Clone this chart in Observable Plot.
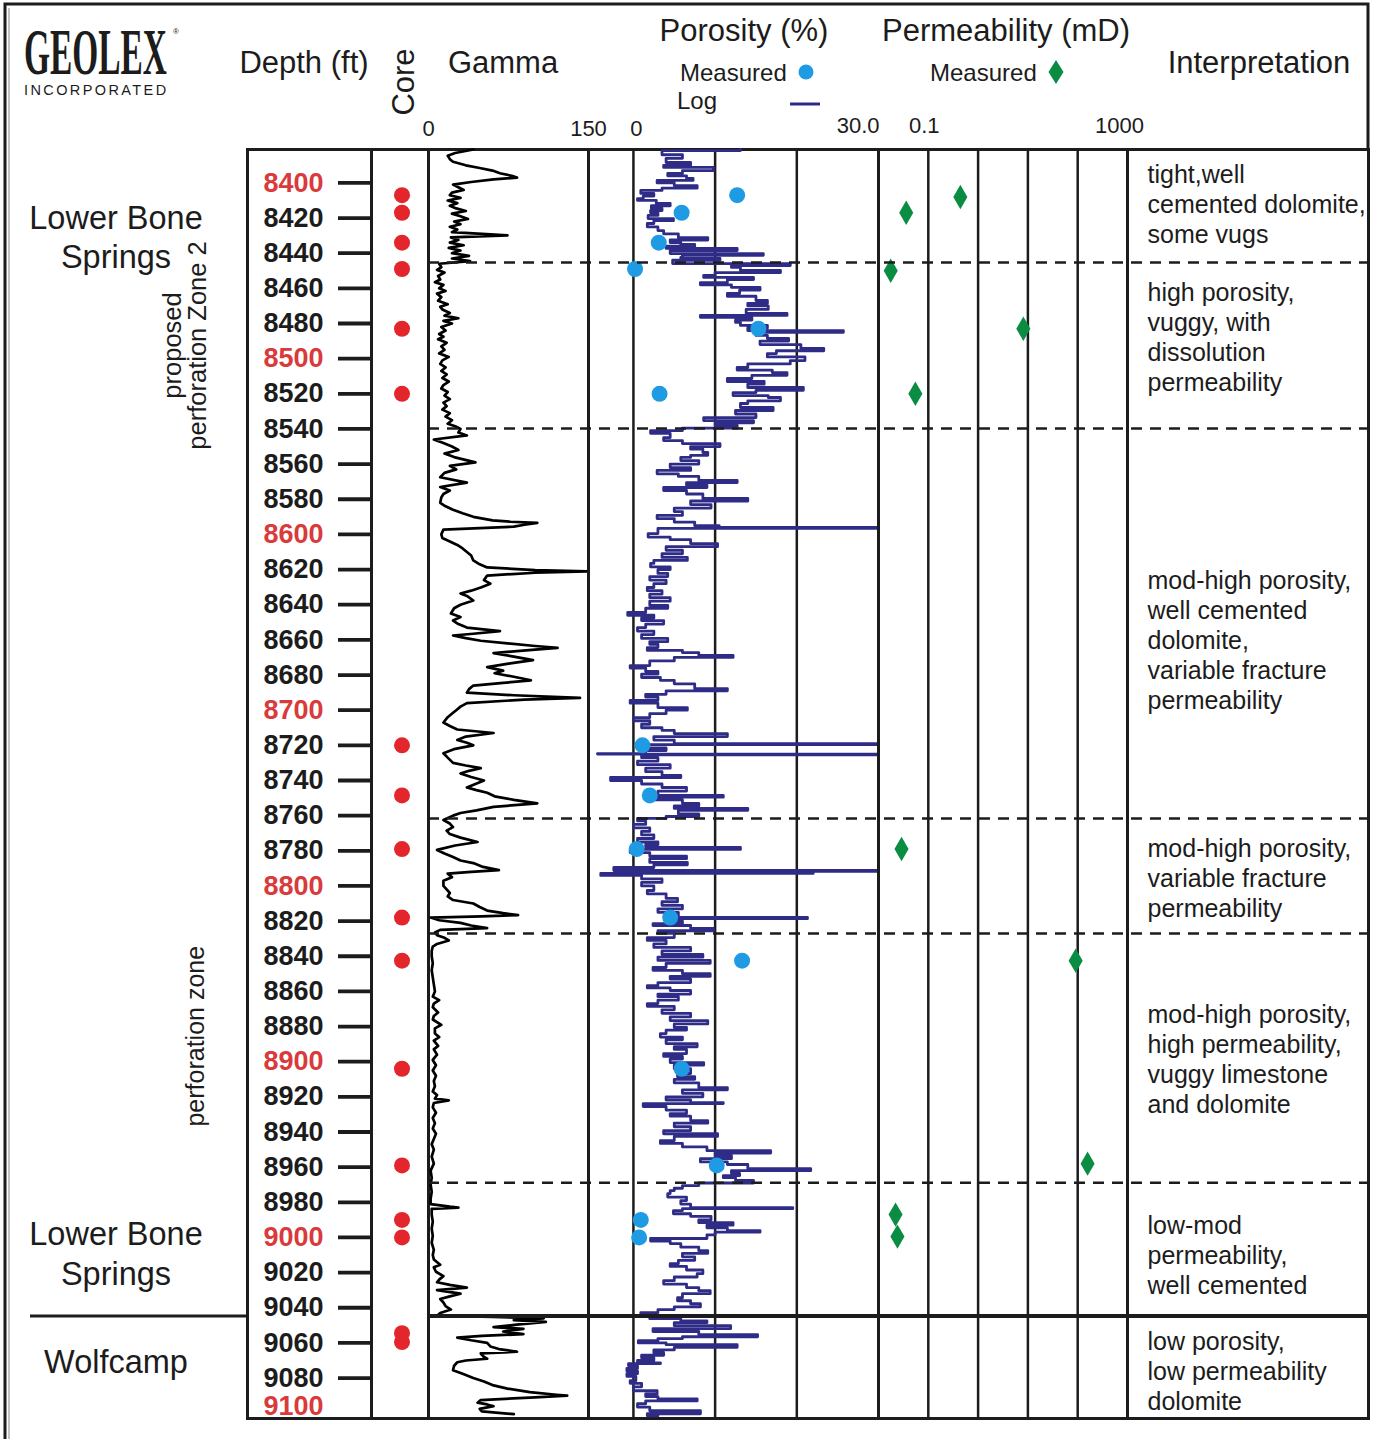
<!DOCTYPE html>
<html>
<head>
<meta charset="utf-8">
<script src="https://cdn.jsdelivr.net/npm/d3@7"></script>
<script src="https://cdn.jsdelivr.net/npm/@observablehq/plot@0.6"></script>
<style>
  body { margin: 0; background: #fff; }
  #chart { position: relative; width: 1373px; height: 1439px; overflow: hidden; background: #fff;
           font-family: "Liberation Sans", Arial, Helvetica, sans-serif; }
</style>
</head>
<body>
<div id="chart"></div>
<script>
// ---------------- DATA ----------------
const depthTicks = d3.range(8400, 9101, 20);                 // ft
const coreDepths = [8407, 8417, 8434, 8449, 8483, 8520, 8720, 8748.5, 8779, 8818, 8842.5, 8904, 8959, 8990, 9000, 9054.5, 9059.5];

// measured porosity [depth ft, porosity %]
const porosityMeasured = [[8407,12.7],[8417,5.9],[8434,3.1],[8449,0.2],[8483,15.3],[8520,3.2],[8720,1.1],[8748.5,2.0],
  [8779,0.4],[8818,4.5],[8842.5,13.3],[8904,5.9],[8959,10.2],[8990,0.9],[9000,0.7]];

// measured permeability [depth ft, mD]
const permMeasured = [[8408,0.44],[8417,0.036],[8450,0.0176],[8483,8.1],[8520,0.055],[8779,0.029],[8842.5,91],[8958,158],[8987,0.022],[8999.5,0.024]];

// gamma ray log [depth ft, API]
const gammaLog = [[8381,42],[8383,25],[8384.5,18],[8386.5,20],[8388,23],[8390,35],[8391.5,48],[8393,60],[8394.5,67],[8396,78],[8397,83],[8398,61],[8399.5,40],[8401,23],[8402.5,28],[8404,33],[8405.5,22],[8407,20],[8408.5,30],[8410,18],[8411.5,27],[8413,20],[8414.5,26],[8416,35],[8417.5,22],[8419,30],[8420.5,37],[8422,24],[8423.5,30],[8425,20],[8426.5,27],[8428,22],[8429.9,74],[8431,21],[8432.5,28],[8434,20],[8435.5,33],[8437,19],[8438.5,30],[8440,22],[8441.5,38],[8443,22],[8444.5,39],
  [8446,10],[8448,12],[8449.5,8],[8451,15],[8453,9],[8455,11],[8456.5,6],[8458,14],[8460,10],[8461.5,16],[8463,8],[8465,12],[8467,9],[8469,18],[8470.5,11],[8472,13],[8474,20],[8475.5,15],[8477,28],[8478.5,14],[8480,22],[8482,12],[8484,16],[8486,10],[8487.5,14],[8489,9],[8491,17],[8493,12],[8495,15],[8497,10],[8499,19],[8501,13],[8503,11],[8505,16],[8507,12],[8509,17],[8511,13],[8513,19],[8515,14],[8517,12],[8519,18],[8521,15],[8523,20],[8525,14],[8527,17],[8529,13],[8531,20],[8533,16],[8535,22],[8537,18],[8538.5,25],[8540,30],
  [8542,28],[8543.7,36],[8546,5],[8548,14],[8550,22],[8552,28],[8554,15],[8556,24],[8559,44],[8561,20],[8563,26],[8565,15],[8567.5,11],[8570.5,36],[8573,11],[8575,20],[8577,14],[8579,12],[8582,11],[8584,16],[8586,23],[8588,32],[8590,42],[8592,60],[8592.8,77],[8593.4,102],[8594.5,90],[8595.6,80],[8597.3,14],[8600,12],[8602,13],[8604,20],[8606,27],[8608,32],[8610,36],[8612,40],[8614.8,42],[8617,48],[8618.8,55],[8620.3,100],[8621,149],[8621.8,100],[8623.4,55],[8626,52],[8628,58],[8630.2,49],[8632,40],[8633.6,30],[8635,36],[8637.6,42],[8640,30],[8642,24],[8645,21],[8647,30],[8649,23],[8651,28],[8653,36],[8655,67],[8656.5,42],[8657.5,23],[8659,35],[8660.5,49],[8662,74],[8663.5,100],[8664.5,121],[8665.5,100],[8667.5,61],[8669.5,80],[8671.5,98],[8673.5,75],[8675.5,55],[8677.5,70],[8679,62],[8681,80],[8683,96],[8684.5,70],[8686,42],[8688,38],[8690,36],[8691.5,80],[8693,142],[8694,90],[8696,36],[8698,30],[8700,26],[8701.5,23],[8704,18],[8707,14],[8709,20],[8711,27],[8713,61],[8715,35],[8717,27],[8718.5,36],[8720,42],[8722,25],[8724.5,14],[8727,18],[8730,23],[8731.5,35],[8733,49],[8734.5,38],[8736,30],[8738,40],[8740,52],[8742,44],[8744,36],[8745.5,45],[8747,55],[8749,62],[8751,80],[8753,102],[8755,61],[8757,45],[8758.5,30],
  [8760,23],[8762.5,14],[8764.5,20],[8766.5,23],[8768.5,17],[8770.5,20],[8772.5,30],[8775,46],[8777,25],[8779.5,8],[8781.5,15],[8783.5,23],[8785.5,30],[8787,42],[8789,50],[8791,66],[8792,40],[8793,18],[8795,22],[8797,14],[8800,14],[8802,17],[8804,20],[8806,18],[8808,23],[8810,42],[8812,48],[8814,55],[8815.5,70],[8816.6,84],[8817.3,50],[8818,2],[8819.5,10],[8821,30],[8822.5,40],[8824,55],[8825,11],[8826.5,6],[8828,8],[8829.5,15],[8831,19],[8833,8],[8834.5,4],[8837,3],[8840,3],[8844,4],[8848,3],[8852,4],[8856,5],[8860,6],[8863,4],[8865,10],[8867,5],[8869,4],[8872,9],[8874,5],[8876,4],[8879,12],[8881,6],[8884,6],[8886,10],[8888,5],[8891,9],[8893,5],[8896,8],[8899,4],[8902,7],[8905,4],[8908,7],[8911,5],[8914,6],[8917,4],[8919,8],[8921,6],[8922,19],[8923.5,5],[8926,4],[8929,7],[8932,4],[8935,6],[8938,4],[8941,7],[8944,5],[8947,3],[8950,5],[8954,3],[8958,5],[8962,2],[8966,3],[8970,2],[8974,3],[8978,2],[8981,2],[8982.5,20],[8983,28],[8983.7,3],[8987,3],[8991,4],[8995,3],[8999,4],[9003,3],[9007,5],[9010,4],[9012.5,5],[9015.5,11],[9017,5],[9019.5,7],[9022,14],[9024,10],[9025.5,8],[9027,20],[9028.5,36],[9030,8],[9032,30],[9033.5,20],[9035,11],[9037,14],[9039,16],[9041,21],[9043,11],[9044.5,8],
  [9045.2,60],[9046,108],[9047,80],[9048,110],[9049.5,85],[9051,61],[9052,89],[9053.5,70],[9055,89],[9056,50],[9057,27],[9058.5,40],[9060,55],[9062,58],[9063.5,66],[9065,83],[9066,49],[9068,52],[9069,55],[9070,35],[9071,27],[9073,24],[9075.5,23],[9077.5,32],[9080,42],[9082,52],[9084,60],[9086,74],[9088,95],[9089.5,120],[9090,130],[9091,100],[9092.5,49],[9094,46],[9095,55],[9096,61],[9097.5,48],[9099,50],[9100.5,80]];

// porosity log [depth ft, porosity %]
const porosityLog = [[8381,13.1],[8381.6,3.5],[8384,6.0],[8386,4.0],[8388.4,7.0],[8390,3.7],[8391.2,9.8],[8393,6.0],[8394.6,4.2],[8396,6.5],[8397.5,7.3],[8398.6,2.9],[8400,5.0],[8401.5,7.8],[8403,3.5],[8404.3,0.9],[8406,2.5],[8407.5,1.2],[8408.9,0.5],[8410,2.8],[8411.7,4.5],[8413,2.2],[8414.5,3.5],[8415.7,2.1],[8417,3.0],[8418.5,1.8],[8420.3,4.9],[8421.5,2.5],[8423.1,1.7],[8425,3.0],[8427.1,3.7],[8429,5.5],[8431.1,9.1],[8432.5,4.5],[8433.9,5.8],[8435,7.5],[8436,4.0],[8437.3,12.7],[8438.5,4.5],[8440.2,15.9],[8441.2,6.0],[8442.4,5.8],[8443,10.6],[8444,4.8],
  [8445.9,19.2],[8447,12.0],[8448.1,13.1],[8449.8,18],[8451,10.0],[8452.7,8.6],[8453.8,14.7],[8455,11.5],[8456.7,8.2],[8458,12.0],[8459.5,15.5],[8461,13.0],[8462.9,11.5],[8464.5,15.0],[8466.9,16.4],[8468.6,14],[8470,16.5],[8472,13.8],[8474.3,18.8],[8475.4,8.2],[8476.5,14.5],[8478,12.5],[8479.4,13.1],[8481.1,16.4],[8482.5,14.0],[8484,25.7],[8485,15.0],[8486.8,16.4],[8488.5,19.0],[8490,15.5],[8492,20.5],[8494.2,23.3],[8495.5,17.5],[8497.1,16.4],[8499,21.0],[8501.1,19.2],[8503,14.0],[8505,12.7],[8506.5,17.0],[8507.9,18.8],[8509.5,14.5],[8511.3,11.5],[8513,16.0],[8514.5,14.0],[8516.4,20.8],[8518,15.0],[8519.3,12.2],[8521,16.5],[8522.1,18],[8524,14.0],[8525.5,13.1],[8527.8,17.1],[8529.5,12.5],[8531.5,15.0],[8533.5,8.6],[8535.2,14.7],[8536.5,10.0],[8538,12.7],[8539.5,6.0],
  [8540.9,2.1],[8542.5,4.5],[8544.9,3.7],[8546.6,6.0],[8548.3,10.6],[8550,7.0],[8551.5,8.5],[8553.4,9.1],[8555,7.0],[8556.2,5.8],[8558,8.0],[8560,4.5],[8562,7.0],[8563.6,2.9],[8565.5,5.5],[8567,8.0],[8569.3,12.7],[8570.5,6.5],[8572,9.0],[8573.3,3.7],[8575,6.5],[8577,8.5],[8579.5,14],[8581,7.0],[8583,9.5],[8585,5.0],[8587,6.0],[8589.2,2.9],[8591,5.0],[8593,7.5],[8595,10.5],[8596,29.9],[8596.6,3.0],[8599.5,1.8],[8601.5,4.5],[8603,7.0],[8605.2,10.3],[8607,4.0],[8609,6.0],[8611,3.5],[8613.1,6.6],[8614.8,2.5],[8616.5,2.1],[8618.5,4.5],[8620,3.0],[8622.2,4.2],[8624,2.0],[8626,4.0],[8628,2.5],[8630.2,1.7],[8632,3.5],[8634,2.0],[8636,4.5],[8638,2.0],[8640.4,4.2],[8642,1.5],[8644.4,-0.7],[8646,2.5],[8647.5,1.0],[8649,3.7],[8651,1.5],[8653,0.5],[8655,2.5],[8657,1.0],[8659.2,4.2],[8661,2.0],[8662.5,3.0],[8664.4,1.7],[8666,6.0],[8667.2,8.0],[8668.9,12.2],[8670,5.0],[8672,2.0],[8674.6,-0.4],[8676,1.5],[8678,3.0],[8679.5,1.0],[8681.4,3.3],[8683,5.0],[8685,7.5],[8687.7,11.5],[8689,4.0],[8691,1.5],[8692.5,3.0],[8694.5,-0.4],[8696,3.0],[8698.5,6.6],[8700,4.0],[8702,2.0],[8704.2,0],[8706,2.0],[8708,1.0],[8710,3.5],[8711.5,5.0],[8713.3,11.5],[8715,2.5],[8717,5.0],[8719,29.9],[8719.6,1.0],[8721.5,4.0],[8723,1.5],[8724.7,-4.4],[8725,29.9],[8725.4,1.0],[8727,3.0],[8729,0.5],[8731,4.5],[8733,1.5],[8735,3.5],[8737.1,5.8],[8738.3,-2.8],[8740,1.0],[8742,3.5],[8744,6.5],[8746,3.0],[8748.5,11.0],[8749.5,2.1],[8751,6.0],[8753,8.0],[8754.5,5.0],[8755.9,14],[8757,5.5],[8759,8.0],[8760.5,4.0],
  [8761.6,0.5],[8763,1.5],[8765,0.0],[8767,2.0],[8769,1.0],[8771,2.5],[8773,0.5],[8775,3.0],[8776.5,1.5],[8778.1,13.1],[8779.2,1.0],[8779.8,-0.4],[8781,2.0],[8783,6.5],[8784.5,2.0],[8786.6,6.6],[8788,2.5],[8789.5,-2.4],[8791.2,29.9],[8791.7,22.0],[8792.9,-4],[8794,1.0],[8796,3.5],[8798,1.0],[8800,2.5],[8802.6,1.7],[8804.5,4.0],[8807.1,5.4],[8809,3.5],[8811,6.0],[8813,3.0],[8815,5.5],[8817.9,21.3],[8818.6,4.0],[8820,6.0],[8821.4,2.4],[8822.5,7.0],[8824.2,9.8],[8825.5,3.0],
  [8827,5.0],[8829.4,1.7],[8831,4.0],[8833,2.5],[8835,7.0],[8837,3.5],[8839,8.5],[8840.5,3.0],[8842.4,9.4],[8844,4.0],[8846.4,2.4],[8848,6.0],[8849.9,9.4],[8851.5,4.5],[8853,7.0],[8855,3.0],[8856.7,1.7],[8858,4.5],[8859.5,7.0],[8861.5,3.0],[8863,5.5],[8865,3.0],[8866.9,1.7],[8868.5,5.0],[8870.5,3.5],[8872.5,7.0],[8874.5,4.5],[8876.6,9.1],[8878.5,5.0],[8880.5,6.5],[8882,4.0],[8884,3.3],[8886,6.0],[8887.5,4.0],[8889.7,7.8],[8891.5,5.0],[8893,6.5],[8895.4,3.7],[8897,6.0],[8898.5,4.5],[8900.5,8.6],[8902,5.0],[8904,7.0],[8906.7,5.4],[8908.5,7.5],[8910,5.0],[8912,8.0],[8914.7,11.5],[8916,6.0],[8918,8.5],[8920,4.0],[8921.8,7.0],[8923.3,11.0],[8923.8,1.2],[8925.5,4.0],[8927.5,6.5],[8929.5,4.5],[8931,7.0],[8933.5,9.1],[8935,5.0],[8937,7.0],[8939.2,3.7],[8941,10.3],[8942.5,5.0],[8944.9,3.3],[8946.5,6.0],[8948.5,9.0],[8950.6,16.8],[8952,10.0],[8953.5,12.0],[8955.2,8.2],[8957,11.5],[8958.5,14.0],[8960.9,21.7],[8962,12.0],[8963.5,13.0],[8964.8,11],[8966,12.5],[8967.6,14.7],
  [8969,8.0],[8970.5,6.0],[8972,5.0],[8973.3,4.5],[8975,4.2],[8977,6.5],[8979,5.8],[8981,7.0],[8983,19.5],[8983.6,6.0],[8984.7,4.9],[8986.5,7.0],[8988,9.5],[8990,8.0],[8991.6,12.2],[8993,9.0],[8994.5,11.5],[8996.1,15.5],[8997,10.0],[8998.5,9.0],[9000.6,2.1],[9002,4.5],[9003.5,5.8],[9005.5,8.0],[9007.5,9.1],[9009,6.0],[9011,7.5],[9013,5.5],[9014.9,4.5],[9016.5,6.5],[9018.5,8.5],[9020.6,7.8],[9022.5,5.0],[9024.6,3.7],[9026.5,6.5],[9028.5,8.0],[9030.3,9.4],[9032,6.0],[9034.3,5.4],[9036,7.0],[9037.7,8.2],[9039.5,5.0],[9041,3.0],[9042.8,0.9],[9044,2.0],
  [9046.2,5.8],[9047.5,9.0],[9048.5,5.0],[9050.2,11.9],[9051.9,2.4],[9053.5,8.0],[9055.3,15.2],[9056.5,6.0],[9057.5,3.0],[9058.7,0.6],[9060,4.0],[9061,12.7],[9062.5,5.0],[9064,2.5],[9065.6,3.7],[9067,1.0],[9068.5,2.5],[9070,0.5],[9071.3,3.3],[9071.8,-0.6],[9073,0.5],[9074.5,-0.8],[9076,0.5],[9077.5,-0.8],[9079,0.3],[9081.5,-0.4],[9083,1.0],[9085,0.0],[9087.2,2.9],[9089,1.5],[9090.5,3.0],[9091.8,7.8],[9093,1.5],[9094.6,0.5],[9096.5,2.0],[9098.6,8.2],[9100.3,1.7],[9101.5,3.0]];

// interpretation intervals: boundaries (ft) and formation top
const zoneBoundaries = [8445.3, 8539.7, 8761.6, 8827, 8968.8];
const wolfcampTop = 9044.7;
const interpretationText = [
  "tight,well\ncemented dolomite,\nsome vugs",
  "high porosity,\nvuggy, with\ndissolution\npermeability",
  "mod-high porosity,\nwell cemented\ndolomite,\nvariable fracture\npermeability",
  "mod-high porosity,\nvariable fracture\npermeability",
  "mod-high porosity,\nhigh permeability,\nvuggy limestone\nand dolomite",
  "low-mod\npermeability,\nwell cemented",
  "low porosity,\nlow permeability\ndolomite"];
const interpretationDepth = [8411.4, 8487.4, 8659.5, 8795, 8898.3, 9009.6, 9075.6];

const formationNames = ["Lower Bone\nSprings", "Lower Bone\nSprings", "Wolfcamp"];
const formationLabelDepth = [8430, 9008.5, 9070];
const proposedZone = [{top: 8447, bottom: 8542, label: "proposed\nperforation Zone 2"}];
const perforationZone = [{top: 8715.5, bottom: 9061.4, label: "perforation zone"}];

const gammaTicks = [0, 150];
const porosityTicks = [0, 30];
const permTicks = [0.1, 1000];

// ---------------- STYLE ----------------
const ink = "#1c1c1c", redDot = "#e3262b", redText = "#d93a3c", blue = "#1e9be2", green = "#0b8c43", navy = "#2e2c87";
const sans = "'Liberation Sans', Arial, Helvetica, sans-serif";
const W = 1373, H = 1439, plotTop = 149, plotBottom = 1418;
const depthDomain = [8381, 9103];
const root = document.getElementById("chart");

// header / frame (title & legend area, plain SVG)
const hdr = `
<svg width="${W}" height="${H}" style="position:absolute;left:0;top:0" font-family="${sans}" fill="${ink}">
  <path d="M5 1439 V4 H1368 V149" fill="none" stroke="${ink}" stroke-width="3"/>
  <path d="M9 1439 V8" fill="none" stroke="#888" stroke-width="1"/>
  <g transform="translate(24,74) scale(0.53,1.04)">
    <text x="0" y="0" font-family="'Liberation Serif','DejaVu Serif',serif" font-weight="bold" font-size="63">GEOLEX</text>
  </g>
  <text x="173" y="34" font-size="8">®</text>
  <text x="24" y="95" font-size="14.5" letter-spacing="2.4">INCORPORATED</text>
  <text x="304" y="73" font-size="31" text-anchor="middle">Depth (ft)</text>
  <text transform="translate(414,82) rotate(-90)" font-size="31" text-anchor="middle">Core</text>
  <text x="503" y="73" font-size="31" text-anchor="middle">Gamma</text>
  <text x="744" y="41" font-size="31" text-anchor="middle">Porosity (%)</text>
  <text x="1006" y="41" font-size="31" text-anchor="middle">Permeability (mD)</text>
  <text x="1259" y="73" font-size="31" text-anchor="middle">Interpretation</text>
  <text x="680" y="81" font-size="24">Measured</text>
  <circle cx="806" cy="72" r="7.5" fill="${blue}"/>
  <text x="677" y="109" font-size="24">Log</text>
  <line x1="790" x2="820" y1="104" y2="104" stroke="${navy}" stroke-width="3"/>
  <text x="930" y="81" font-size="24">Measured</text>
  <path d="M1056 60 L1063.5 72 L1056 84 L1048.5 72 Z" fill="${green}"/>
</svg>`;
root.insertAdjacentHTML("beforeend", hdr);

const baseStyle = `background:transparent;overflow:visible;font-family:${sans};color:${ink};`;

function track(left, width, {x, marks, marginLeft = 0, marginRight = 0}) {
  const svg = Plot.plot({
    width, height: H,
    marginTop: plotTop, marginBottom: H - plotBottom, marginLeft, marginRight,
    y: {domain: depthDomain, reverse: true, axis: null},
    x: x ?? {axis: null},
    style: baseStyle,
    marks
  });
  svg.style.position = "absolute";
  svg.style.left = left + "px";
  svg.style.top = "0px";
  root.appendChild(svg);
}

const frame = Plot.frame({stroke: ink, strokeWidth: 3});
const topAxis = (ticks, o) => Plot.axisX(ticks, {anchor: "top", tickSize: 0, fontSize: 22, label: null, fill: ink, ...o});
const depthAxis = (ticks, color, o = {}) => Plot.axisY(ticks, {anchor: "left", dx: 124, tickSize: 33, tickPadding: 15, strokeWidth: 3.8, stroke: ink, fill: color, fontSize: 27, fontWeight: "bold", tickFormat: "d", label: null, ...o});

// Left annotation column (formations, perforation zones)
track(0, 247, {marginLeft: 30, marks: [
  Plot.ruleY([wolfcampTop], {y: d => d, stroke: ink, strokeWidth: 3}),
  Plot.ruleX(proposedZone, {y1: "top", y2: "bottom", stroke: ink, strokeWidth: 9, dx: 88.5}),
  Plot.ruleX(perforationZone, {y1: "top", y2: "bottom", stroke: ink, strokeWidth: 9, dx: 83.5}),
  Plot.text(formationNames, {y: (d, i) => formationLabelDepth[i], text: d => d, frameAnchor: "middle", dx: -23, fontSize: 32.5, lineHeight: 1.21, fill: ink}),
  Plot.text(proposedZone, {y: d => (d.top + d.bottom) / 2 - 2, text: "label", rotate: -90, frameAnchor: "middle", dx: 46.5, fontSize: 25.5, lineHeight: 1.0, fill: ink}),
  Plot.text(perforationZone, {y: d => 8885.5, text: "label", rotate: -90, frameAnchor: "middle", dx: 56.5, fontSize: 25, fill: ink})
]});

// Depth column
const lastTick = depthTicks[depthTicks.length - 1];
track(247, 124, {marks: [
  frame,
  depthAxis(depthTicks.filter(d => d % 100 !== 0), ink),
  depthAxis(depthTicks.filter(d => d % 100 === 0 && d !== lastTick), redText),
  depthAxis([lastTick], redText, {tickSize: 0, dx: 124 - 33, dy: -7})
]});

// Core column
track(371, 57, {marks: [
  frame,
  Plot.dot(coreDepths, {y: d => d, r: 8, fill: redDot, dx: 2})
]});

// Gamma
track(428, 160, {x: {domain: [0, 150], axis: null}, marks: [
  frame,
  Plot.line(gammaLog, {x: d => d[1], y: d => d[0], stroke: "#000", strokeWidth: 2.7, curve: "linear"}),
  topAxis(gammaTicks, {tickPadding: 14, tickFormat: "d"})
]});

// Porosity
track(588, 290, {x: {domain: [-5.5, 30], axis: null}, marks: [
  Plot.ruleX([0, 10, 20], {x: d => d, stroke: ink, strokeWidth: 2.5}),
  frame,
  Plot.line(porosityLog, {x: d => d[1], y: d => d[0], stroke: navy, strokeWidth: 2.8, curve: "step-before"}),
  Plot.dot(porosityMeasured, {x: d => d[1], y: d => d[0], r: 8, fill: blue}),
  topAxis([porosityTicks[0]], {tickPadding: 14, tickFormat: "d", dx: 3}),
  topAxis([porosityTicks[1]], {tickPadding: 17, tickFormat: d => d.toFixed(1), textAnchor: "end", dx: 1})
]});

// Permeability
track(878, 249, {x: {type: "log", domain: [0.01, 1000], axis: null}, marks: [
  Plot.ruleX([0.1, 1, 10, 100], {x: d => d, stroke: ink, strokeWidth: 2.5}),
  frame,
  Plot.dot(permMeasured, {x: d => d[1], y: d => d[0], symbol: "diamond", r: 7.4, fill: green}),
  topAxis([permTicks[0]], {tickPadding: 17, tickFormat: d => String(d), dx: -4}),
  topAxis([permTicks[1]], {tickPadding: 17, tickFormat: d => String(d), dx: -8})
]});

// Interpretation
track(1127, 241, {marks: [
  frame,
  Plot.text(interpretationText, {y: (d, i) => interpretationDepth[i], text: d => d, frameAnchor: "left", textAnchor: "start", dx: 20, fontSize: 25, lineHeight: 1.2, fill: ink})
]});

// Zone boundaries across gamma → interpretation
track(428, 940, {marks: [
  Plot.ruleY(zoneBoundaries, {y: d => d, stroke: ink, strokeWidth: 2.5, strokeDasharray: "11,8"}),
  Plot.ruleY([wolfcampTop], {y: d => d, stroke: ink, strokeWidth: 4})
]});
</script>
</body>
</html>
